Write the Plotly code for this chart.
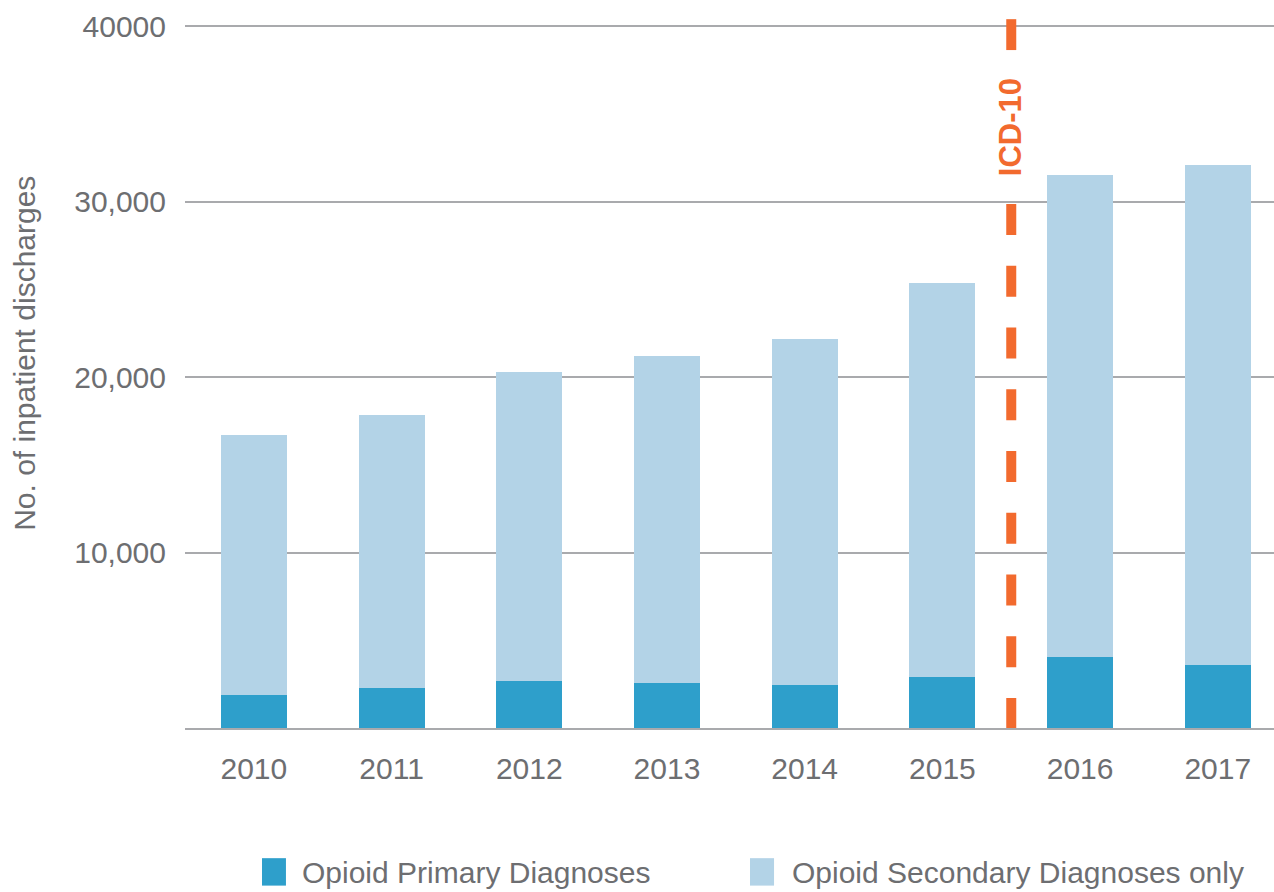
import plotly.graph_objects as go

years = ["2010", "2011", "2012", "2013", "2014", "2015", "2016", "2017"]
primary = [1860, 2280, 2690, 2560, 2430, 2900, 4040, 3600]
total = [16720, 17840, 20290, 21200, 22170, 25380, 31510, 32100]
secondary = [t - p for t, p in zip(total, primary)]
series_names = ["Opioid Primary Diagnoses", "Opioid Secondary Diagnoses only"]
y_tick_vals = [10000, 20000, 30000, 40000]
y_tick_text = ["10,000", "20,000", "30,000", "40000"]
y_title = "No. of inpatient discharges"
marker_label = "ICD-10"
marker_pos = 5.5  # between 2015 and 2016

C_PRIMARY = "#2e9fcb"
C_SECONDARY = "#b3d3e7"
C_ORANGE = "#f26a2e"
C_TEXT = "#6d6e71"
C_GRID = "#a9aaad"
FONT = "Liberation Sans, Arial, sans-serif"
FS = 30

fig = go.Figure()
fig.add_trace(go.Bar(x=years, y=primary, name=series_names[0], marker_color=C_PRIMARY,
                     marker_line_width=0, width=0.48, showlegend=False))
fig.add_trace(go.Bar(x=years, y=secondary, name=series_names[1], marker_color=C_SECONDARY,
                     marker_line_width=0, width=0.48, showlegend=False))

# ICD-10 dashed marker line: short top dash, then dashed segment below label
fig.add_shape(type="line", xref="x", yref="y", x0=marker_pos, x1=marker_pos, y0=40390, y1=38630,
              line=dict(color=C_ORANGE, width=10))
fig.add_shape(type="line", xref="x", yref="y", x0=marker_pos, x1=marker_pos, y0=29860, y1=0,
              line=dict(color=C_ORANGE, width=10, dash="31px,30.75px"))
fig.add_annotation(x=marker_pos, y=34250, xref="x", yref="y", text="<b>" + marker_label + "</b>",
                   textangle=-90, showarrow=False, xanchor="center", yanchor="middle",
                   font=dict(family=FONT, size=31, color=C_ORANGE))

# y-axis title
fig.add_annotation(x=-0.147, y=0.529, xref="paper", yref="paper", text=y_title, textangle=-90,
                   showarrow=False, xanchor="center", yanchor="middle",
                   font=dict(family=FONT, size=FS, color=C_TEXT))

# custom legend
leg = [(0.0707, 0.0927, 0.1056, C_PRIMARY), (0.5188, 0.5409, 0.5556, C_SECONDARY)]
for (x0, x1, xt, col), name in zip(leg, series_names):
    fig.add_shape(type="rect", xref="paper", yref="paper", x0=x0, x1=x1, y0=-0.2223, y1=-0.1836,
                  fillcolor=col, line_width=0)
    fig.add_annotation(x=xt, y=-0.204, xref="paper", yref="paper", text=name, showarrow=False,
                       xanchor="left", yanchor="middle", font=dict(family=FONT, size=FS, color=C_TEXT))

fig.update_layout(
    width=1274, height=892,
    margin=dict(l=185, r=0, t=19, b=164),
    barmode="stack",
    plot_bgcolor="white", paper_bgcolor="white",
    font=dict(family=FONT, size=FS, color=C_TEXT),
    showlegend=False,
    xaxis=dict(range=[-0.5, 7.408], showgrid=False, showline=True, linecolor=C_GRID, linewidth=2,
               ticks="", ticklabelstandoff=13, tickfont=dict(size=FS, color=C_TEXT)),
    yaxis=dict(range=[0, 40400], tickvals=y_tick_vals, ticktext=y_tick_text, showgrid=True,
               gridcolor=C_GRID, gridwidth=2, zeroline=False, showline=False, ticks="",
               ticklabelstandoff=18, tickfont=dict(size=FS, color=C_TEXT)),
)

fig.write_html("out.html", config={"displayModeBar": False},
               post_script="document.body.style.margin='0';")
